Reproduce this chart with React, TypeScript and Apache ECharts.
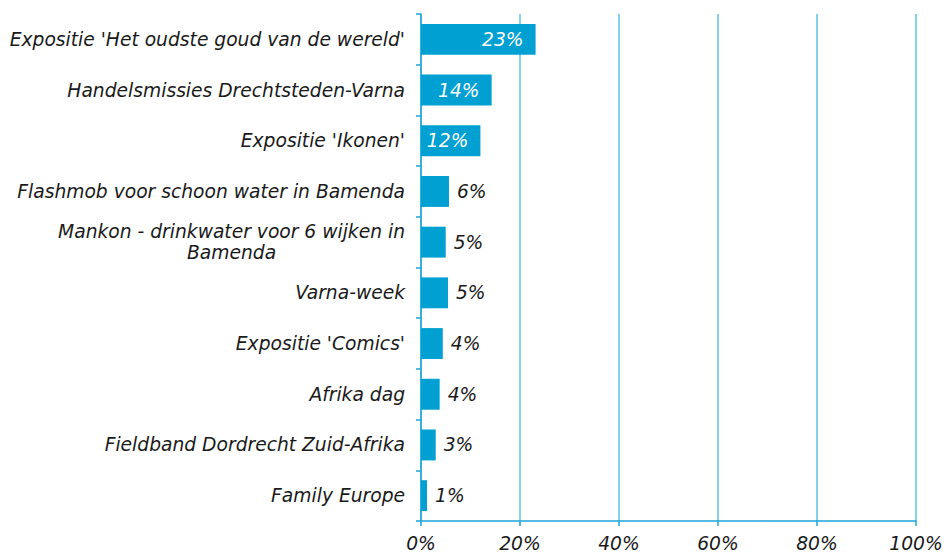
import React, { useEffect, useRef } from "react";
import * as echarts from "echarts";

const categories = [
  "Expositie 'Het oudste goud van de wereld'",
  "Handelsmissies Drechtsteden-Varna",
  "Expositie 'Ikonen'",
  "Flashmob voor schoon water in Bamenda",
  "Mankon - drinkwater voor 6 wijken in\nBamenda",
  "Varna-week",
  "Expositie 'Comics'",
  "Afrika dag",
  "Fieldband Dordrecht Zuid-Afrika",
  "Family Europe",
];
const barValues = [23.15, 14.27, 12.0, 5.65, 4.99, 5.45, 4.4, 3.77, 2.97, 1.21];
const labelValues = [23, 14, 12, 6, 5, 5, 4, 4, 3, 1];
const xTicks = [0, 20, 40, 60, 80, 100];

const FONT = "Verdana, 'DejaVu Sans', sans-serif";
const BAR = "#00a0d2";
const AXIS = "#1ea4da";
const GRID = "#5cc3e6";
const TEXT = "#1a1a1a";
const FS = 18.7;

export default function App() {
  const ref = useRef<HTMLDivElement>(null);
  useEffect(() => {
    if (!ref.current) return;
    const chart = echarts.init(ref.current, null, { renderer: "svg" });
    const data = barValues.map((v, i) => {
      const inside = v > 10;
      return {
        value: v,
        label: {
          show: true,
          position: inside ? "insideRight" : "right",
          distance: inside ? 12 : 8,
          color: inside ? "#ffffff" : TEXT,
          formatter: () => `${labelValues[i]}%`,
        },
      };
    });
    chart.setOption({
      animation: false,
      grid: { left: 421, right: 32, top: 14, bottom: 33, containLabel: false },
      xAxis: {
        type: "value",
        min: xTicks[0],
        max: xTicks[xTicks.length - 1],
        interval: 20,
        axisLine: { show: true, lineStyle: { color: AXIS, width: 1.5 } },
        axisTick: { show: true, length: 5, lineStyle: { color: AXIS, width: 1.5 } },
        splitLine: { show: true, lineStyle: { color: GRID, width: 1.5 } },
        axisLabel: {
          formatter: (v: number) => `${v}%`,
          fontFamily: FONT,
          fontStyle: "italic",
          fontSize: FS,
          color: TEXT,
          margin: 13,
        },
      },
      yAxis: {
        type: "category",
        data: categories,
        inverse: true,
        axisLine: { show: true, lineStyle: { color: AXIS, width: 1.5 } },
        axisTick: { show: true, length: 5, lineStyle: { color: AXIS, width: 1.5 } },
        axisLabel: {
          margin: 16,
          fontFamily: FONT,
          fontStyle: "italic",
          fontSize: FS,
          color: TEXT,
          lineHeight: 21,
          formatter: (v: string) =>
            v
              .split("\n")
              .map((l) => `{c|${l}}`)
              .join("\n"),
          rich: {
            c: {
              align: "center",
              fontFamily: FONT,
              fontStyle: "italic",
              fontSize: FS,
              color: TEXT,
              lineHeight: 21,
            },
          },
        },
      },
      series: [
        {
          type: "bar",
          data,
          barCategoryGap: "39%",
          itemStyle: { color: BAR },
          label: {
            fontFamily: FONT,
            fontStyle: "italic",
            fontSize: FS,
          },
        },
      ],
    });
    return () => chart.dispose();
  }, []);
  return <div ref={ref} style={{ width: 948, height: 554, position: "absolute", left: 0, top: 0 }} />;
}
